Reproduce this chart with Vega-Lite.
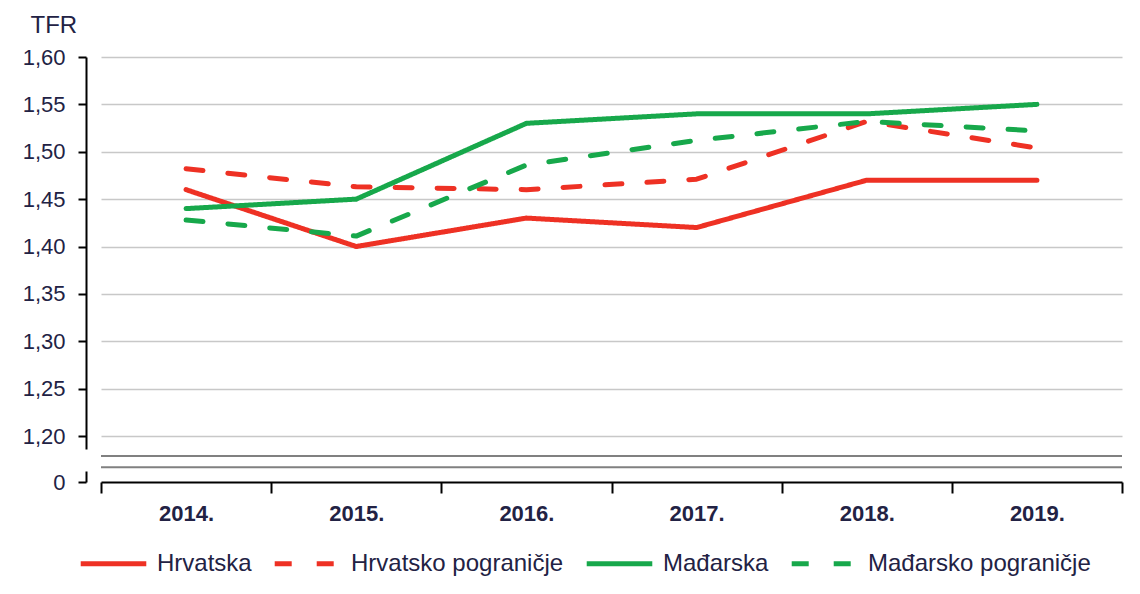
{
  "$schema": "https://vega.github.io/schema/vega-lite/v6.json",
  "autosize": "none",
  "width": 1021,
  "height": 425,
  "padding": {"left": 101, "top": 57, "right": 18, "bottom": 112},
  "background": "white",
  "config": {
    "font": "Liberation Sans",
    "view": {"stroke": null},
    "legend": {
      "symbolType": "stroke",
      "symbolSize": 4300,
      "symbolStrokeWidth": 5,
      "labelFontSize": 24,
      "labelFont": "Liberation Sans",
      "labelColor": "#222244",
      "labelOffset": 8,
      "labelLimit": 600,
      "columnPadding": 12
    }
  },
  "data": {
    "values": [
      {"serija": "Hrvatska", "godina": "2014.", "tfr": 1.46},
      {"serija": "Hrvatska", "godina": "2015.", "tfr": 1.40},
      {"serija": "Hrvatska", "godina": "2016.", "tfr": 1.43},
      {"serija": "Hrvatska", "godina": "2017.", "tfr": 1.42},
      {"serija": "Hrvatska", "godina": "2018.", "tfr": 1.47},
      {"serija": "Hrvatska", "godina": "2019.", "tfr": 1.47},
      {"serija": "Hrvatsko pograničje", "godina": "2014.", "tfr": 1.482},
      {"serija": "Hrvatsko pograničje", "godina": "2015.", "tfr": 1.463},
      {"serija": "Hrvatsko pograničje", "godina": "2016.", "tfr": 1.46},
      {"serija": "Hrvatsko pograničje", "godina": "2017.", "tfr": 1.471},
      {"serija": "Hrvatsko pograničje", "godina": "2018.", "tfr": 1.532},
      {"serija": "Hrvatsko pograničje", "godina": "2019.", "tfr": 1.504},
      {"serija": "Mađarska", "godina": "2014.", "tfr": 1.44},
      {"serija": "Mađarska", "godina": "2015.", "tfr": 1.45},
      {"serija": "Mađarska", "godina": "2016.", "tfr": 1.53},
      {"serija": "Mađarska", "godina": "2017.", "tfr": 1.54},
      {"serija": "Mađarska", "godina": "2018.", "tfr": 1.54},
      {"serija": "Mađarska", "godina": "2019.", "tfr": 1.55},
      {"serija": "Mađarsko pograničje", "godina": "2014.", "tfr": 1.428},
      {"serija": "Mađarsko pograničje", "godina": "2015.", "tfr": 1.411},
      {"serija": "Mađarsko pograničje", "godina": "2016.", "tfr": 1.486},
      {"serija": "Mađarsko pograničje", "godina": "2017.", "tfr": 1.512},
      {"serija": "Mađarsko pograničje", "godina": "2018.", "tfr": 1.532},
      {"serija": "Mađarsko pograničje", "godina": "2019.", "tfr": 1.522}
    ]
  },
  "layer": [
    {
      "layer": [
        {
          "mark": {"type": "line", "strokeWidth": 5, "strokeCap": "round", "strokeJoin": "round"},
          "encoding": {
            "x": {
              "field": "godina",
              "type": "ordinal",
              "bandPosition": 0.5,
              "scale": {"type": "band", "paddingInner": 0, "paddingOuter": 0},
              "axis": {
                "orient": "bottom",
                "title": null,
                "tickBand": "extent",
                "labelAngle": 0,
                "domainColor": "#000000",
                "domainWidth": 2,
                "tickColor": "#000000",
                "tickWidth": 2,
                "tickSize": 11,
                "labelPadding": 10,
                "labelFontSize": 22,
                "labelFontWeight": "bold",
                "labelColor": "#222244",
                "grid": false
              }
            },
            "y": {
              "field": "tfr",
              "type": "quantitative",
              "scale": {"domain": [1.1863, 1.6], "range": [392, 0], "nice": false, "zero": false},
              "axis": {
                "orient": "left",
                "values": [1.2, 1.25, 1.3, 1.35, 1.4, 1.45, 1.5, 1.55, 1.6],
                "labelExpr": "replace(format(datum.value, '.2f'), '.', ',')",
                "offset": 15,
                "grid": true,
                "gridColor": "#c8c8c8",
                "gridWidth": 1.5,
                "domainColor": "#000000",
                "domainWidth": 2,
                "tickColor": "#000000",
                "tickWidth": 2,
                "tickSize": 8,
                "labelPadding": 13,
                "labelFontSize": 22,
                "labelColor": "#222244",
                "title": "TFR",
                "titleAngle": 0,
                "titleAlign": "left",
                "titleBaseline": "middle",
                "titleX": -56,
                "titleY": -32,
                "titleFontSize": 24,
                "titleFontWeight": "normal",
                "titleColor": "#222244"
              }
            },
            "color": {
              "field": "serija",
              "type": "nominal",
              "scale": {
                "domain": ["Hrvatska", "Hrvatsko pograničje", "Mađarska", "Mađarsko pograničje"],
                "range": ["#ee3124", "#ee3124", "#17a84b", "#17a84b"]
              },
              "legend": {"title": null, "orient": "none", "direction": "horizontal", "legendX": -23, "legendY": 471}
            },
            "strokeDash": {
              "field": "serija",
              "type": "nominal",
              "scale": {
                "domain": ["Hrvatska", "Hrvatsko pograničje", "Mađarska", "Mađarsko pograničje"],
                "range": [[1, 0], [17, 25], [1, 0], [17, 25]]
              },
              "legend": {"title": null, "orient": "none", "direction": "horizontal", "legendX": -23, "legendY": 471}
            }
          }
        },
        {
          "data": {"values": [{}]},
          "mark": {"type": "rule", "color": "#808080", "strokeWidth": 2},
          "encoding": {"y": {"datum": 1.179, "type": "quantitative"}}
        },
        {
          "data": {"values": [{}]},
          "mark": {"type": "rule", "color": "#808080", "strokeWidth": 2},
          "encoding": {"y": {"datum": 1.167, "type": "quantitative"}}
        }
      ]
    },
    {
      "data": {"values": [{}]},
      "mark": {"type": "rule", "opacity": 0},
      "encoding": {
        "y": {
          "datum": 0,
          "type": "quantitative",
          "scale": {"domain": [0, 1], "range": [425, 414], "nice": false, "zero": false},
          "axis": {
            "orient": "left",
            "values": [0],
            "offset": 15,
            "grid": false,
            "domainColor": "#000000",
            "domainWidth": 2,
            "tickColor": "#000000",
            "tickWidth": 2,
            "tickSize": 8,
            "labelPadding": 13,
            "labelFontSize": 22,
            "labelColor": "#222244",
            "title": null
          }
        }
      }
    }
  ],
  "resolve": {"scale": {"y": "independent"}, "axis": {"y": "independent"}}
}
